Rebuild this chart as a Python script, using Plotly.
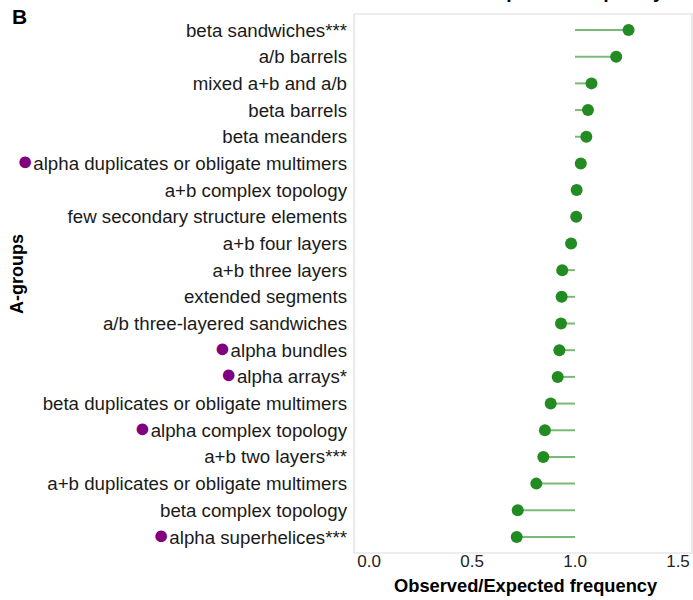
import plotly.graph_objects as go

categories = [
    "beta sandwiches***", "a/b barrels", "mixed a+b and a/b", "beta barrels",
    "beta meanders", "alpha duplicates or obligate multimers", "a+b complex topology",
    "few secondary structure elements", "a+b four layers", "a+b three layers",
    "extended segments", "a/b three-layered sandwiches", "alpha bundles",
    "alpha arrays*", "beta duplicates or obligate multimers", "alpha complex topology",
    "a+b two layers***", "a+b duplicates or obligate multimers",
    "beta complex topology", "alpha superhelices***",
]
values = [1.26, 1.20, 1.08, 1.063, 1.055, 1.028, 1.008, 1.006, 0.981, 0.938,
          0.935, 0.932, 0.924, 0.916, 0.882, 0.854, 0.846, 0.812, 0.722, 0.717]
is_alpha = [c.startswith("alpha") for c in categories]
baseline = 1.0
x_ticks = [0.0, 0.5, 1.0, 1.5]
x_ticklabels = ["0.0", "0.5", "1.0", "1.5"]

FONT = "Liberation Sans, Arial, Helvetica, sans-serif"
GREEN = "#228B22"
PURPLE = "#800080"

seg_x, seg_y = [], []
for c, v in zip(categories, values):
    seg_x += [baseline, v, None]
    seg_y += [c, c, None]

ticktext = [
    (f"<span style='color:{PURPLE};font-size:27px'>●</span>{c}" if a else c)
    for c, a in zip(categories, is_alpha)
]

fig = go.Figure()
fig.add_trace(go.Scatter(x=seg_x, y=seg_y, mode="lines",
                         line=dict(color="rgba(34,139,34,0.6)", width=2),
                         hoverinfo="skip", showlegend=False))
fig.add_trace(go.Scatter(x=values, y=categories, mode="markers",
                         marker=dict(color=GREEN, size=12, line=dict(width=0)),
                         showlegend=False))

n = len(categories)
W, L, T, B = 338, 354, 14, 553
def px(x):
    return (x - L) / W
def py(y):
    return (B - y) / (B - T)

fig.update_layout(
    width=693, height=600,
    margin=dict(l=354, r=1, t=14, b=47, autoexpand=False),
    paper_bgcolor="white", plot_bgcolor="white",
    font=dict(family=FONT, color="#1a1a1a", size=16),
    xaxis=dict(range=[-0.073, 1.568], tickvals=x_ticks, ticktext=x_ticklabels,
               showgrid=False, zeroline=False, showline=False, ticks="", ticklen=0,
               automargin=False, ticklabelstandoff=-4,
               tickfont=dict(size=17, color="#222222")),
    yaxis=dict(type="category", categoryorder="array", categoryarray=categories,
               tickvals=categories, ticktext=ticktext, automargin=False,
               range=[n - 0.4, -0.6], showgrid=False, zeroline=False,
               showline=False, ticks="", ticklen=0, ticklabelstandoff=6,
               tickfont=dict(size=18.7, color="#1a1a1a")),
    shapes=[dict(type="rect", xref="paper", yref="paper", x0=0, x1=1, y0=0, y1=1,
                 line=dict(color="#dcdcdc", width=1.2), layer="above")],
    annotations=[
        dict(text="<b>B</b>", x=px(19), y=py(17), xanchor="center", yanchor="middle",
             xref="paper", yref="paper", showarrow=False,
             font=dict(size=21, color="black", family=FONT)),
        dict(text="<b>A-groups</b>", x=px(17), y=py(274), xanchor="center",
             yanchor="middle", xref="paper", yref="paper", showarrow=False,
             textangle=-90, font=dict(size=18, color="black", family=FONT)),
        dict(text="<b>Observed/Expected frequency</b>", x=px(526), y=py(585),
             xanchor="center", yanchor="middle", xref="paper", yref="paper",
             showarrow=False, font=dict(size=18.3, color="black", family=FONT)),
        dict(text="<b>Observed/Expected frequency</b>", x=px(527), y=py(4),
             xanchor="center", yanchor="bottom", xref="paper", yref="paper",
             showarrow=False, font=dict(size=19, color="black", family=FONT)),
    ],
)
fig.write_html("out.html", config={"displayModeBar": False},
               post_script="document.body.style.margin='0px';")
